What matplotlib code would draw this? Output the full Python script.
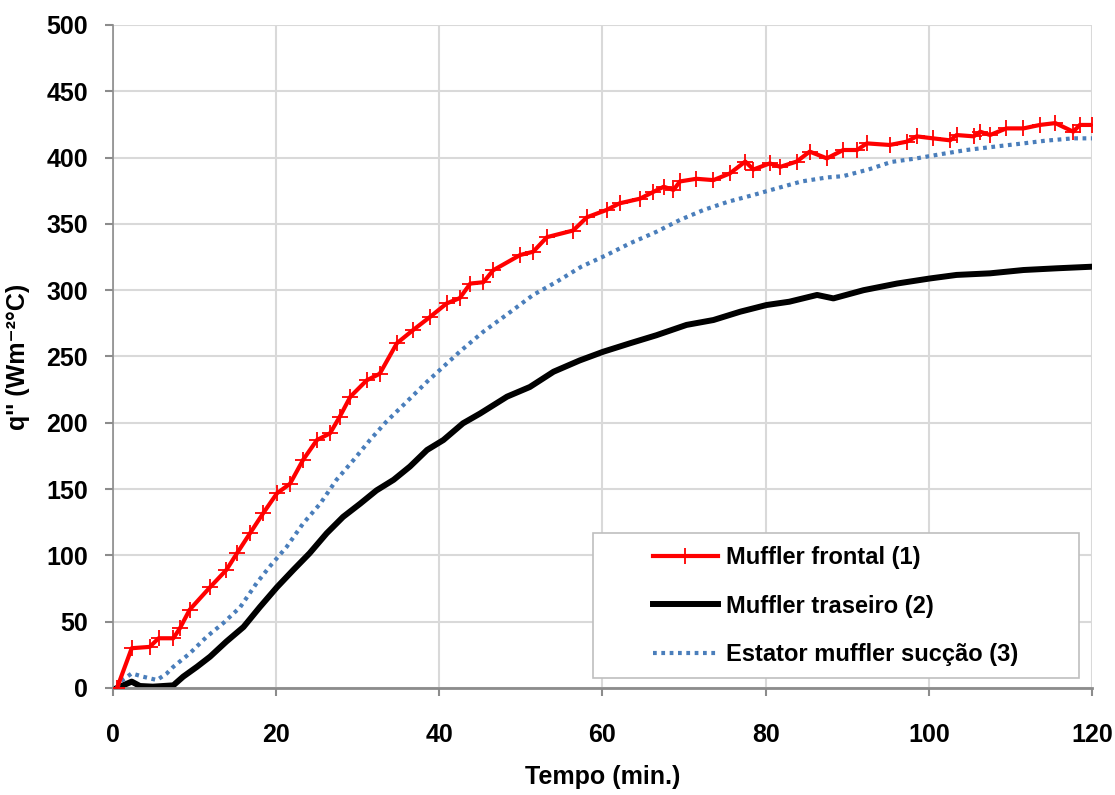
import matplotlib
matplotlib.use("Agg")
import matplotlib.pyplot as plt
from matplotlib.patches import Rectangle

# ---- data ----
x_red = [0.5, 2.3, 4.5, 5.6, 7.4, 8.2, 9.4, 11.9, 13.9, 15.2, 16.8, 18.4, 20.1, 21.7, 23.3,
         25.0, 26.6, 27.8, 29.1, 31.1, 32.7, 34.8, 36.8, 38.9, 40.9, 42.5, 43.8, 45.4, 46.6,
         49.9, 51.5, 53.2, 56.4, 58.1, 60.5, 62.1, 64.6, 66.2, 67.5, 68.7, 69.5, 71.5, 73.6,
         75.6, 77.5, 78.5, 80.5, 81.8, 83.8, 85.4, 87.5, 89.5, 91.2, 92.4, 95.2, 97.3, 98.5,
         100.5, 102.6, 103.4, 105.5, 106.3, 107.5, 109.5, 111.6, 113.6, 115.5, 117.7, 118.5, 120]
y_red = [0, 30, 31, 37.5, 37.5, 45, 59, 76, 89, 101.6, 116.7, 131.7, 146.8, 154, 172,
         187, 192, 204.6, 219.7, 232, 237, 260, 270, 280, 290, 294, 305, 306, 315,
         326.5, 329, 340, 345, 355, 360.5, 365.5, 369, 374, 378, 375.6, 382, 384, 383,
         388, 397, 391, 395.6, 393, 397, 404.5, 399.4, 405.7, 405.7, 410.7, 409.5, 412, 416,
         414.5, 413, 417, 416, 419.5, 417, 422, 422, 424.6, 426, 419.5, 424.6, 424.6]

x_black = [0.5, 2.3, 3.3, 4.9, 7.4, 8.6, 10.3, 11.9, 13.9, 16.0, 18.0, 20.1, 22.1, 24.1, 26.2,
           28.2, 30.3, 32.3, 34.4, 36.4, 38.5, 40.5, 42.9, 45.0, 48.3, 51.1, 54.0, 57.2, 60.1,
           63.4, 66.6, 70.3, 73.6, 76.9, 80.1, 82.9, 86.3, 88.3, 92.0, 96.1, 100.1, 103.4,
           107.5, 111.6, 115.7, 120]
y_black = [0, 4.8, 1.5, 1, 2, 8.5, 16, 23.6, 35, 46, 61, 76, 89, 101.6, 116.7,
           129, 139, 149, 157, 167, 179.5, 187, 199.6, 207, 219.7, 227, 238.5, 247, 253.6,
           260, 266, 273.8, 277.5, 283.8, 288.8, 291.3, 296.4, 293.8, 300, 305, 308.8, 311.5,
           312.7, 315.2, 316.5, 317.7]

x_blue = [0.5, 0.9, 2.3, 3.7, 5.4, 6.6, 7.4, 9.4, 11.5, 13.5, 15.6, 17.6, 19.2, 21.3, 23.3,
          25.4, 27.4, 29.5, 31.5, 33.5, 35.6, 38.5, 42.5, 45.4, 48.5, 51.5, 54.4, 57.4, 60.5,
          63.4, 66.6, 69.5, 72.4, 75.4, 78.5, 80.9, 84.4, 87.5, 89.5, 92.6, 95.4, 98.5, 101.6,
          104.6, 108.7, 111.6, 114.4, 117.7, 120]
y_blue = [0, 4.8, 11, 8.5, 6, 11, 16, 26, 38.7, 48.8, 61, 79, 91.5, 106.5, 124,
          139, 157, 172, 187, 200.8, 213.4, 231, 253.6, 268.7, 282.6, 296.4, 306.4, 317.7, 326.5,
          335.4, 344, 353, 360.5, 366.7, 371.8, 376, 382, 385, 386, 391, 396.7, 399.4, 402.7,
          405.7, 408.7, 410.7, 412.8, 414.5, 414.5]

labels = ["Muffler frontal (1)", "Muffler traseiro (2)", "Estator muffler sucção (3)"]
x_ticks = [0, 20, 40, 60, 80, 100, 120]
y_ticks = [0, 50, 100, 150, 200, 250, 300, 350, 400, 450, 500]
x_label = "Tempo (min.)"
y_label = "q'' (Wm\u207b\u00b2°C)"

plt.rcParams['font.family'] = ['Liberation Sans', 'DejaVu Sans']
plt.rcParams['font.weight'] = 'bold'

fig = plt.figure(figsize=(11.15, 7.95), dpi=100)
ax = fig.add_axes([0.1013, 0.1346, 0.8781, 0.834])

ax.plot(x_red, y_red, color='#FF0000', lw=3.0, marker='+', ms=11, mew=1.3, label=labels[0], zorder=3)
ax.plot(x_black, y_black, color='black', lw=4.3, label=labels[1], zorder=2)
ax.plot(x_blue, y_blue, color='#4A7EBB', lw=3.0, linestyle=(0, (0.9, 1.1)), label=labels[2], zorder=2)

ax.set_xlim(0, 120)
ax.set_ylim(0, 500)
ax.set_xticks(x_ticks)
ax.set_yticks(y_ticks)
ax.grid(True, color='#D9D9D9', lw=1.5)
ax.set_axisbelow(True)
for s in ['top', 'right']:
    ax.spines[s].set_visible(False)
for s in ['left', 'bottom']:
    ax.spines[s].set_color('#8C8C8C')
ax.spines['left'].set_linewidth(1.2)
ax.spines['bottom'].set_linewidth(2.0)
ax.tick_params(axis='both', direction='out', length=6, width=1.5, color='#8C8C8C', labelsize=18)
ax.tick_params(axis='x', pad=19.5)
ax.tick_params(axis='y', pad=12)
for t in ax.get_xticklabels() + ax.get_yticklabels():
    t.set_fontweight('bold')

ax.set_xlabel(x_label, fontsize=18, fontweight='bold', labelpad=13)
ax.set_ylabel(y_label, fontsize=18, fontweight='bold', labelpad=12)

# legend box (frame drawn separately to match the wide left padding of the original)
box = Rectangle((0.4903, 0.0151), 0.9867 - 0.4903, 0.2338 - 0.0151, transform=ax.transAxes,
                facecolor='white', edgecolor='#BFBFBF', lw=1.2, zorder=4)
ax.add_patch(box)
leg = ax.legend(loc='center left', bbox_to_anchor=(0.5516, 0.1235), frameon=False,
                prop={'size': 17, 'weight': 'bold'}, handlelength=2.75, borderpad=0,
                labelspacing=1.08, handletextpad=0.35, borderaxespad=0)
leg.set_zorder(5)

fig.savefig("out.png", dpi=100)
